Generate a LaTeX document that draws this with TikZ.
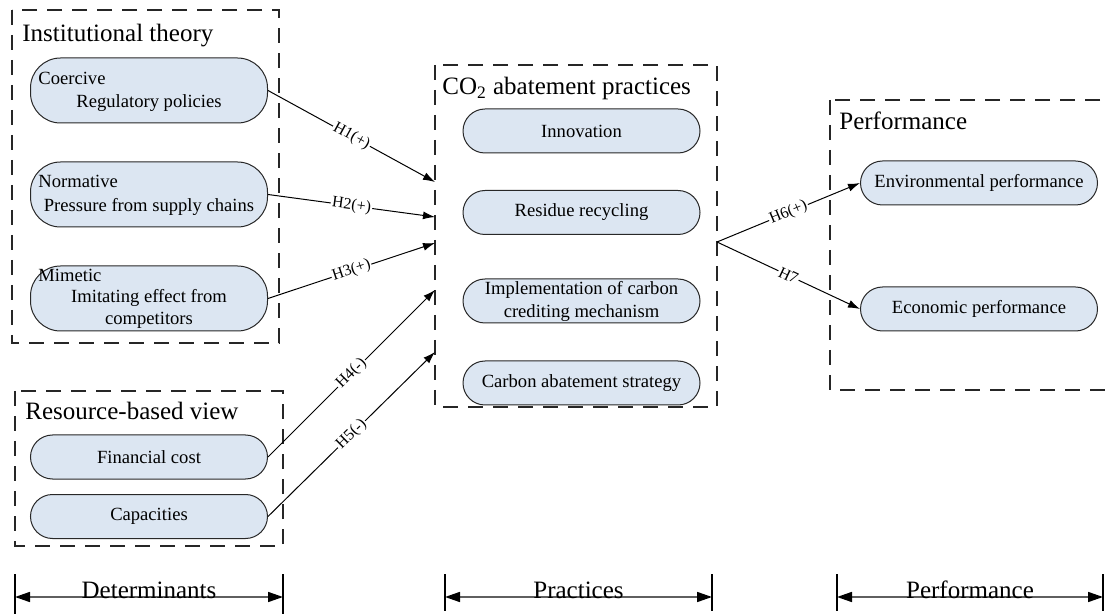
\documentclass[tikz,border=0pt]{standalone}
\usepackage{fontspec}
\setmainfont{Liberation Serif}
\usetikzlibrary{arrows.meta,positioning}
\definecolor{PillFill}{RGB}{220,230,242}
\definecolor{PillLine}{RGB}{40,40,40}
\definecolor{DimGray}{RGB}{95,95,95}
\tikzset{
  pill/.style={draw=PillLine, fill=PillFill, rounded corners=11pt, line width=0.5pt, align=center, inner sep=0pt, minimum width=118.5pt, minimum height=22pt, font=\fontsize{9.3}{11.5}\selectfont},
  pilltall/.style={pill, rounded corners=15pt, minimum height=32.5pt},
  group/.style={draw=black!85, dash pattern=on 7.5pt off 5pt, line width=1pt},
  heading/.style={anchor=base west, inner sep=0pt, font=\fontsize{12.5}{15}\selectfont},
  kind/.style={anchor=base west, inner sep=0pt, font=\fontsize{9.3}{11.5}\selectfont},
  inner/.style={anchor=base, inner sep=0pt, font=\fontsize{9.3}{11.5}\selectfont},
  arrow/.style={-{Latex[length=6pt,width=4pt]}, line width=0.5pt, draw=black},
  hyp/.style={midway, sloped, fill=white, inner sep=0.6pt, font=\fontsize{8}{9.6}\selectfont},
  dimline/.style={{Triangle[length=7.5pt,width=5pt,color=black]}-{Triangle[length=7.5pt,width=5pt,color=black]}, line width=0.8pt, draw=DimGray},
  dimtick/.style={line width=1pt, draw=black},
  dimlabel/.style={anchor=base, inner sep=0pt, font=\fontsize{12.5}{15}\selectfont}
}
\begin{document}
\begin{tikzpicture}[x=0.5pt,y=-0.5pt]
\useasboundingbox (0,0) rectangle (1108,614);
\clip (0,0) rectangle (1108,614);

% determinants
\node[pilltall] (coercive) at (149,90.5) {};
\node[kind] (coercivek) at (38,85) {Coercive};
\node[inner] (coercivet) at (149,108) {Regulatory policies};
\node[pilltall] (normative) at (149,194.5) {};
\node[kind] (normativek) at (38,188) {Normative};
\node[inner] (normativet) at (149,212) {Pressure from supply chains};
\node[pilltall] (mimetic) at (149,298.5) {};
\node[kind] (mimetick) at (38,282) {Mimetic};
\node[inner] (mimetict) at (149,303) {Imitating effect from};
\node[inner] (mimetict2) at (149,325) {competitors};
\node[pill] (cost) at (149,457) {Financial cost};
\node[pill] (capac) at (149,516.5) {Capacities};

% practices
\node[pill] (innov) at (581.5,131) {Innovation};
\node[pill] (residue) at (581.5,212.5) {Residue recycling};
\node[pill] (credit) at (581.5,301) {Implementation of carbon\\crediting mechanism};
\node[pill] (strategy) at (581.5,383) {Carbon abatement strategy};

% performance
\node[pill] (envperf) at (979,183) {Environmental performance};
\node[pill] (ecoperf) at (979,309) {Economic performance};

% frames
\draw[group] (12,10) rectangle (279,343);
\node[heading] (insttitle) at (22,42) {Institutional theory};
\draw[group] (15,391) rectangle (283,546);
\node[heading] (rbvtitle) at (25,420) {Resource-based view};
\draw[group] (435,65) rectangle (717,407);
\node[heading] (co2title) at (442,95) {CO\textsubscript{2} abatement practices};
\draw[group] (830,100) rectangle (1125,390);
\node[heading] (perftitle) at (839,130) {Performance};

\coordinate (in1) at (435,182);
\coordinate (in2) at (435,217);
\coordinate (in3) at (435,243);
\coordinate (in4) at (435,290);
\coordinate (in5) at (435,352);
\coordinate (out) at (717,242);

\draw[arrow] (coercive.east) -- node[hyp] {H1(+)} (in1);
\draw[arrow] (normative.east) -- node[hyp] {H2(+)} (in2);
\draw[arrow] (mimetic.east) -- node[hyp] {H3(+)} (in3);
\draw[arrow] (cost.east) -- node[hyp] {H4(-)} (in4);
\draw[arrow] (capac.east) -- node[hyp] {H5(-)} (in5);
\draw[arrow] (out) -- node[hyp] {H6(+)} (envperf.west);
\draw[arrow] (out) -- node[hyp] {H7} (ecoperf.west);

% stages
\coordinate (detL) at (15,597);
\coordinate (detR) at (283,597);
\coordinate (pracL) at (445,597);
\coordinate (pracR) at (712,597);
\coordinate (perfL) at (837,597);
\coordinate (perfR) at (1103,597);
\draw[dimline] (detL) -- (detR);
\draw[dimline] (pracL) -- (pracR);
\draw[dimline] (perfL) -- (perfR);
\draw[dimtick] ([yshift=11.5pt]detL) -- ([yshift=-9pt]detL);
\draw[dimtick] ([yshift=11.5pt]detR) -- ([yshift=-9pt]detR);
\draw[dimtick] ([yshift=11.5pt]pracL) -- ([yshift=-7pt]pracL);
\draw[dimtick] ([yshift=11.5pt]pracR) -- ([yshift=-7pt]pracR);
\draw[dimtick] ([yshift=11.5pt]perfL) -- ([yshift=-7pt]perfL);
\draw[dimtick] ([yshift=11.5pt]perfR) -- ([yshift=-7pt]perfR);
\node[dimlabel] (detlabel) at (149,598) {Determinants};
\node[dimlabel] (praclabel) at (578.5,598) {Practices};
\node[dimlabel] (perflabel) at (970,598) {Performance};
\end{tikzpicture}
\end{document}
